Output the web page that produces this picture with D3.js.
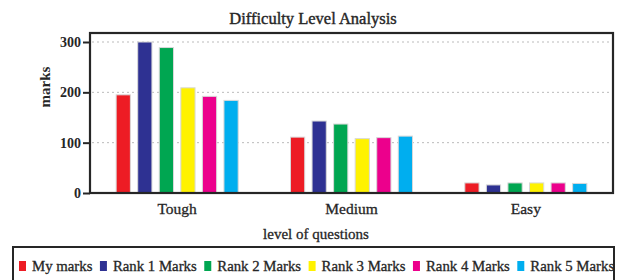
<!DOCTYPE html>
<meta charset="utf-8">
<style>
 body { margin: 0; background: #fff; }
 text {
   font-family: "Liberation Serif", serif;
   fill: #262626;
 }
 .grid line {
   stroke: #bbb;
   stroke-dasharray: 2,3;
 }
</style>
<svg width="621" height="280"></svg>
<script src="https://d3js.org/d3.v7.min.js"></script>
<script>

 var categories = ["Tough", "Medium", "Easy"];
 var seriesNames = ["My marks", "Rank 1 Marks", "Rank 2 Marks", "Rank 3 Marks", "Rank 4 Marks", "Rank 5 Marks"];
 var seriesColors = ["#ed1c24", "#2e3192", "#00a651", "#fff200", "#ec008c", "#00aeef"];
 // marks per difficulty level, one array per series
 var myMarks = [195, 111, 20];
 var rank1 = [300, 143, 16];
 var rank2 = [289, 137, 20];
 var rank3 = [209, 108, 20];
 var rank4 = [192, 110, 20];
 var rank5 = [184, 113, 19];
 var yTicks = [0, 100, 200, 300];

 var seriesValues = [myMarks, rank1, rank2, rank3, rank4, rank5];

 var svg = d3.select("svg");
 var plotL = 90, plotR = 613, plotT = 33, plotB = 193;

 var x0 = d3.scaleBand()
            .domain(categories)
            .range([plotL, plotR])
            .paddingInner(0.3)
            .paddingOuter(0.15);

 var x1 = d3.scaleBand()
            .domain(seriesNames)
            .range([0, x0.bandwidth()])
            .paddingInner(0.34);

 var y = d3.scaleLinear()
           .domain([0, 300])
           .range([plotB, 42]);

 var color = d3.scaleOrdinal(seriesNames, seriesColors);

 // title
 svg.append("text")
    .attr("x", 313).attr("y", 24)
    .attr("text-anchor", "middle")
    .style("font-size", "16.5px")
    .style("stroke", "#262626").style("stroke-width", 0.4)
    .text("Difficulty Level Analysis");

 // dotted grid
 svg.append("g")
    .attr("class", "grid")
    .selectAll("line")
    .data(yTicks.filter(function(d) { return d > 0; }))
    .enter().append("line")
    .attr("x1", plotL + 2).attr("x2", plotR - 2)
    .attr("y1", function(d) { return y(d); })
    .attr("y2", function(d) { return y(d); });

 // bars
 var groups = svg.append("g")
                 .selectAll("g")
                 .data(categories)
                 .enter().append("g")
                 .attr("transform", function(d) { return "translate(" + x0(d) + ",0)"; });

 groups.selectAll("rect")
       .data(function(c, ci) {
         return seriesNames.map(function(s, si) { return { s: s, v: seriesValues[si][ci] }; });
       })
       .enter().append("rect")
       .attr("x", function(d) { return x1(d.s); })
       .attr("width", x1.bandwidth())
       .attr("y", function(d) { return y(d.v); })
       .attr("height", function(d) { return plotB - y(d.v); })
       .attr("fill", function(d) { return color(d.s); })
       .attr("stroke", "#d8d8d8")
       .attr("stroke-width", 1);

 // frame
 svg.append("rect")
    .attr("x", plotL).attr("y", plotT)
    .attr("width", plotR - plotL).attr("height", plotB - plotT)
    .attr("fill", "none")
    .attr("stroke", "#262626")
    .attr("stroke-width", 2.2);

 // y axis
 var yAxis = svg.append("g")
                .attr("transform", "translate(" + plotL + ",0)")
                .call(d3.axisLeft(y).tickValues(yTicks).tickSize(7).tickPadding(2));
 yAxis.select(".domain").remove();
 yAxis.selectAll(".tick line").attr("stroke", "#262626").attr("stroke-width", 2);
 yAxis.selectAll("text")
      .style("font-family", "Liberation Serif, serif")
      .style("font-size", "14px")
      .style("font-weight", "bold")
      .attr("fill", "#262626");

 // x axis labels
 var xAxis = svg.append("g")
                .attr("transform", "translate(0," + plotB + ")")
                .call(d3.axisBottom(x0).tickSize(0).tickPadding(10));
 xAxis.select(".domain").remove();
 xAxis.selectAll("text")
      .style("font-family", "Liberation Serif, serif")
      .style("font-size", "15.5px")
      .style("stroke", "#262626").style("stroke-width", 0.3)
      .attr("fill", "#262626");

 svg.append("text")
    .attr("transform", "translate(50,87) rotate(-90)")
    .attr("text-anchor", "middle")
    .style("font-size", "15px")
    .style("font-weight", "bold")
    .text("marks");

 svg.append("text")
    .attr("x", 316).attr("y", 239)
    .attr("text-anchor", "middle")
    .style("font-size", "15px")
    .style("stroke", "#262626").style("stroke-width", 0.3)
    .text("level of questions");

 // legend
 svg.append("rect")
    .attr("x", 13).attr("y", 247)
    .attr("width", 601).attr("height", 40)
    .attr("fill", "none")
    .attr("stroke", "#262626")
    .attr("stroke-width", 2);

 var lx = 19;
 seriesNames.forEach(function(s) {
   svg.append("rect")
      .attr("x", lx).attr("y", 261)
      .attr("width", 7).attr("height", 10)
      .attr("fill", color(s));
   var t = svg.append("text")
              .attr("x", lx + 13).attr("y", 271)
              .style("font-size", "14.8px")
              .style("stroke", "#262626").style("stroke-width", 0.3)
              .text(s);
   lx += 13 + t.node().getComputedTextLength() + 7.5;
 });
</script>
